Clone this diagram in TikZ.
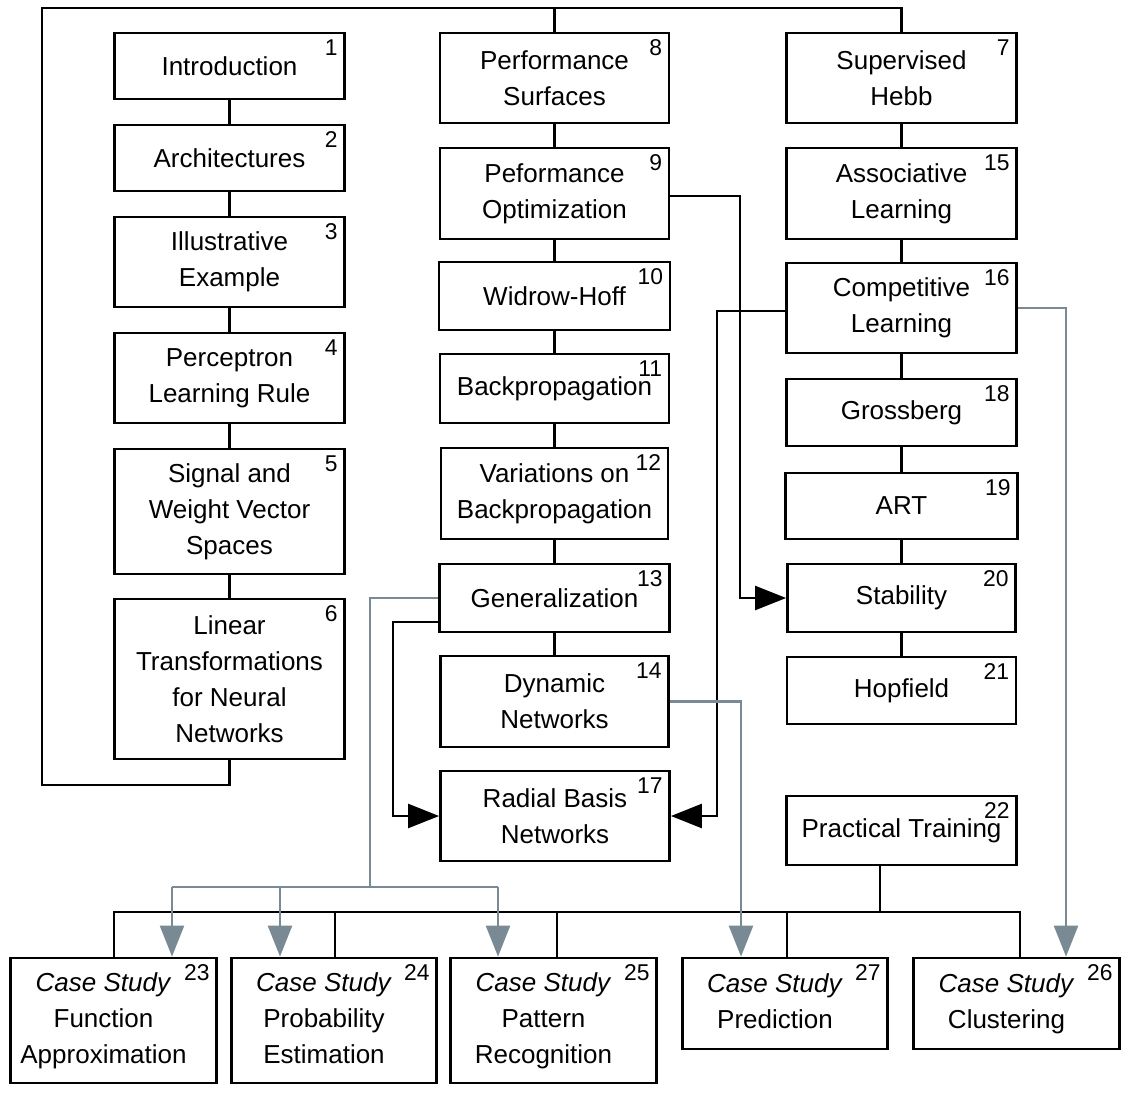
\documentclass[tikz,border=0pt]{standalone}
\usepackage{fontspec}
\setmainfont{Liberation Sans}
\usetikzlibrary{arrows.meta,calc}
\definecolor{lgray}{RGB}{122,138,148}
\newcommand\casetext[1]{\begin{tabular}{@{}c@{\hspace{0.4cm}}}\textit{Case Study}\\#1\end{tabular}}

\begin{document}
\begin{tikzpicture}[x=0.02cm,y=-0.02cm,
    box/.style 2 args={draw,line width=1.6pt,inner sep=0pt,
      minimum width=#1*0.02cm,minimum height=#2*0.02cm,
      font=\fontsize{14.8}{20.5}\selectfont},
    chapter/.style 2 args={box={#1}{#2},align=center},
    num/.style={font=\fontsize{13}{13}\selectfont,anchor=north east,
      inner sep=0pt,xshift=-0.16cm,yshift=-0.15cm},
    link/.style={line width=1.4pt},
    grey link/.style={line width=1.4pt,lgray},
    tip/.style={-{Triangle[length=0.62cm,width=0.48cm]}}]
        \useasboundingbox (0,0) rectangle (1132,1094);
        % left column
        \node[chapter={230}{66},label={[num]north east:1}] (c1) at (229.5,66) {Introduction};
        \node[chapter={230}{66},label={[num]north east:2}] (c2) at (229.5,158) {Architectures};
        \node[chapter={230}{90},label={[num]north east:3}] (c3) at (229.5,262) {Illustrative\\Example};
        \node[chapter={230}{90},label={[num]north east:4}] (c4) at (229.5,378) {Perceptron\\Learning Rule};
        \node[chapter={230}{125},label={[num]north east:5}] (c5) at (229.5,511.5) {Signal and\\Weight Vector\\Spaces};
        \node[chapter={230}{160},label={[num]north east:6}] (c6) at (229.5,679) {Linear\\Transformations\\for Neural\\Networks};
        % middle column
        \node[chapter={229}{90},label={[num]north east:8}] (c8) at (554.5,78) {Performance\\Surfaces};
        \node[chapter={229}{91},label={[num]north east:9}] (c9) at (554.5,193.5) {Peformance\\Optimization};
        \node[chapter={231}{68},label={[num]north east:10}] (c10) at (554.5,296) {Widrow-Hoff};
        \node[chapter={229}{69},label={[num]north east:11}] (c11) at (554.5,388.5) {Backpropagation};
        \node[chapter={227}{91},label={[num]north east:12}] (c12) at (554.5,493.5) {Variations on\\Backpropagation};
        \node[chapter={230}{68},label={[num]north east:13}] (c13) at (554.5,598) {Generalization};
        \node[chapter={228}{91},label={[num]north east:14}] (c14) at (554.5,701.5) {Dynamic\\Networks};
        \node[chapter={229}{90},label={[num]north east:17}] (c17) at (555,816) {Radial Basis\\Networks};
        % right column
        \node[chapter={230}{90},label={[num]north east:7}] (c7) at (901.5,78) {Supervised\\Hebb};
        \node[chapter={230}{91},label={[num]north east:15}] (c15) at (901.5,193.5) {Associative\\Learning};
        \node[chapter={230}{90},label={[num]north east:16}] (c16) at (901.5,308) {Competitive\\Learning};
        \node[chapter={230}{67},label={[num]north east:18}] (c18) at (901.5,412.5) {Grossberg};
        \node[chapter={232}{66},label={[num]north east:19}] (c19) at (901.5,506) {ART};
        \node[chapter={228}{68},label={[num]north east:20}] (c20) at (901.5,598) {Stability};
        \node[chapter={229}{67},label={[num]north east:21}] (c21) at (901.5,690.5) {Hopfield};
        \node[chapter={230}{69},label={[num]north east:22}] (c22) at (901.5,830.5) {Practical Training};
        % case studies
        \node[box={206}{125},label={[num]north east:23}] (c23) at (113.5,1020.5) {\casetext{Function\\Approximation}};
        \node[box={205}{125},label={[num]north east:24}] (c24) at (334,1020.5) {\casetext{Probability\\Estimation}};
        \node[box={206}{125},label={[num]north east:25}] (c25) at (553.5,1020.5) {\casetext{Pattern\\Recognition}};
        \node[box={205}{91},label={[num]north east:27}] (c27) at (785,1003.5) {\casetext{Prediction}};
        \node[box={206}{91},label={[num]north east:26}] (c26) at (1016.5,1003.5) {\casetext{Clustering}};

        % chains
        \draw[link] (c1) -- (c2) -- (c3) -- (c4) -- (c5) -- (c6);
        \draw[link] (c8) -- (c9) -- (c10) -- (c11) -- (c12) -- (c13) -- (c14);
        \draw[link] (c7) -- (c15) -- (c16) -- (c18) -- (c19) -- (c20) -- (c21);
        \coordinate (loopB) at (42,785);
        \coordinate (loopT) at (42,8);
        \draw[link] (c6.south) |- (loopB) -- (loopT) -| (c7.north);
        \draw[link] (c8.north) -- (c8.north |- loopT);

        % arrows
        \coordinate (r9) at (740,196);
        \coordinate (l16) at (717,311);
        \coordinate (l13) at (393,622);
        \draw[link,tip] (c9.east |- r9) -- (r9) |- (c20.west);
        \draw[link,tip] (c16.west |- l16) -- (l16) |- (c17.east);
        \draw[link,tip] (c13.west |- l13) -- (l13) |- (c17.west);

        % bus to case studies
        \coordinate (bus) at (880,912);
        \coordinate (busL) at (114,912);
        \coordinate (busR) at (1020,912);
        \coordinate (d24) at (335,912);
        \coordinate (d25) at (557,912);
        \coordinate (d27) at (787,912);
        \draw[link] (bus |- c22.south) -- (bus);
        \draw[link] (c23.north -| busL) -- (busL) -- (busR) -- (c26.north -| busR);
        \draw[link] (d24) -- (d24 |- c24.north);
        \draw[link] (d25) -- (d25 |- c25.north);
        \draw[link] (d27) -- (d27 |- c27.north);

        % grey arrows
        \coordinate (g13) at (370,887);
        \coordinate (g23) at (172,887);
        \coordinate (g24) at (280,887);
        \coordinate (g25) at (498,887);
        \draw[grey link] (c13.west) -| (g13);
        \draw[grey link] (g23) -- (g25);
        \draw[grey link,tip] (g23) -- (g23 |- c23.north);
        \draw[grey link,tip] (g24) -- (g24 |- c24.north);
        \draw[grey link,tip] (g25) -- (g25 |- c25.north);
        \draw[grey link,tip] (c14.east) -| (c27.north -| 741,0);
        \draw[grey link,tip] (c16.east) -| (c26.north -| 1066,0);
\end{tikzpicture}
\end{document}
